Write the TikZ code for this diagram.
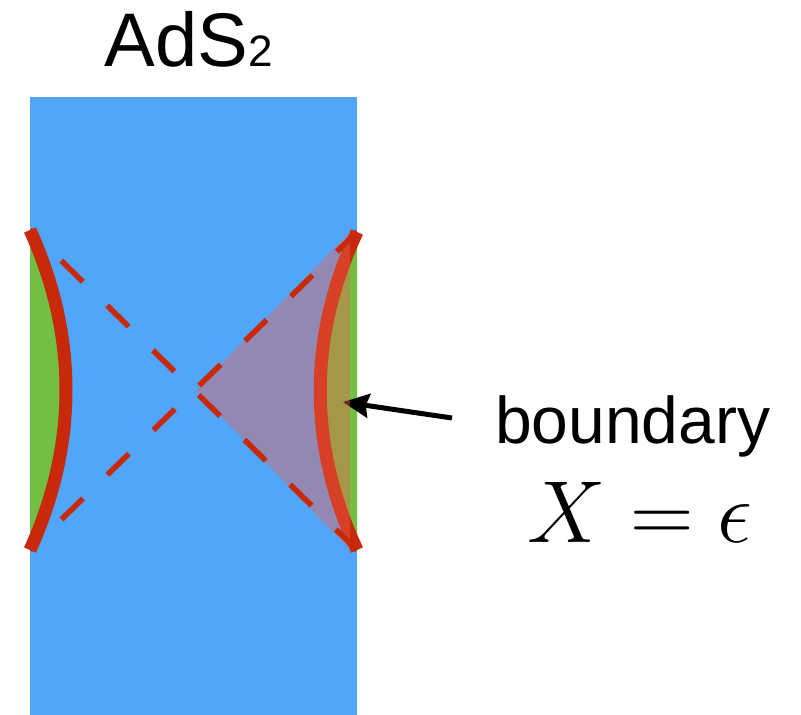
\documentclass[tikz,border=0pt]{standalone}
\usepackage{fix-cm}
\usepackage{fontspec}
\setmainfont{Liberation Sans}
\usetikzlibrary{arrows.meta}

\definecolor{adsblue}{RGB}{81,166,250}
\definecolor{bgreen}{RGB}{114,191,68}
\definecolor{cutred}{RGB}{200,41,10}
\definecolor{wedgered}{RGB}{237,96,78}

\tikzset{
  cutoff/.style={cutred, line width=13pt},
  lightray/.style={cutred, line width=5.5pt, dash pattern=on 30pt off 34pt, dash phase=20pt},
}

\begin{document}
\begin{tikzpicture}[x=1pt, y=-1pt]
        \useasboundingbox (0,0) rectangle (801,715);

        % AdS2 strip
        \fill[adsblue] (30,97) rectangle (357,715);
        \node[anchor=base, font=\fontsize{76}{76}\selectfont] (title) at (189,66) {AdS{\fontsize{44}{44}\selectfont 2}};

        % Regions cut away beyond the boundary curves
        \fill[bgreen] (30,230) .. controls (78,336) and (78,444) .. (30,550) -- cycle;
        \fill[bgreen] (357,232) .. controls (308,337) and (308,445) .. (357,550) -- cycle;

        % Boundary curves
        \draw[cutoff] (30,230) .. controls (78,336) and (78,444) .. (30,550);
        \draw[cutoff] (357,232) .. controls (308,337) and (308,445) .. (357,550);

        % Label and arrow
        \coordinate (tip) at (343,402);
        \node[anchor=base west, inner sep=0pt, font=\fontsize{66}{66}\selectfont] (bnd) at (495,443) {boundary};
        \draw[line width=5pt, -{Stealth[length=26pt, width=24pt, inset=3pt]}] ([xshift=-43pt, yshift=25pt]bnd.base west) -- (tip);

        % Shaded wedge
        \fill[wedgered, opacity=0.42] (350,232) -- (196,390) -- (350,550) -- cycle;

        % Light rays
        \draw[lightray] (30,230) -- (357,550);
        \draw[lightray] (30,550) -- (357,232);

        % X = epsilon
        \node[anchor=base, font=\fontsize{88}{88}\selectfont] (eqn) at (640,542) {$X=\epsilon$};
\end{tikzpicture}
\end{document}
